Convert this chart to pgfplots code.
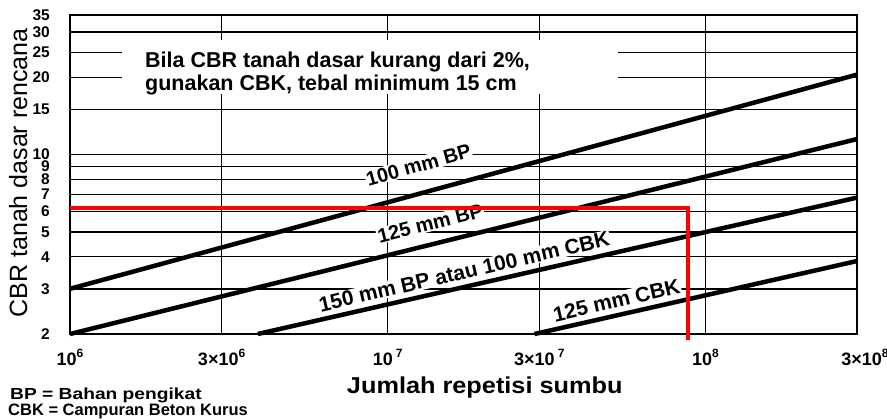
\documentclass[border=0pt]{standalone}
\usepackage{graphicx}
\usepackage{pgfplots}
\pgfplotsset{compat=1.18}
\usepackage{fontspec}
\setmainfont{Liberation Sans}
\newcommand{\tsup}[1]{\raisebox{0.42em}{\fontsize{12}{12}\selectfont #1}}
\begin{document}
\begin{tikzpicture}
\begin{axis}[
  at={(70pt,86pt)}, anchor=south west,
  width=787pt, height=319pt, scale only axis,
  xmode=log, ymode=log,
  xmin=1e6, xmax=3e8, ymin=2, ymax=35,
  clip=false,
  xtick={1e6,3e6,1e7,3e7,1e8,3e8},
  xticklabels={10\tsup{6}, 3×10\tsup{6}, 10\,\tsup{7}, 3×10\,\tsup{7}, 10\tsup{8}, \hspace{16pt}3×10\tsup{8}},
  ytick={2,3,4,5,6,7,8,9,10,15,20,25,30,35},
  yticklabels={2,3,4,5,6,7,8,9,10,15,20,25,30,35},
  xmajorgrids, ymajorgrids,
  grid style={black, line width=1.5pt},
  major tick length=0pt, minor tick length=0pt,
  minor x tick num=0, minor y tick num=0,
  axis line style={black, line width=1.8pt},
  yticklabel style={font=\fontsize{15.5}{15.5}\selectfont\bfseries, anchor=east, inner sep=0pt, xshift=-20pt},
  xticklabel style={font=\fontsize{18}{18}\selectfont\bfseries, anchor=north, inner sep=0pt, yshift=-15pt},
  xlabel={\scalebox{1.1}[1]{Jumlah repetisi sumbu}},
  ylabel={CBR tanah dasar rencana},
  xlabel style={at={(axis description cs:0.527,-0.185)}, anchor=base, font=\fontsize{23}{23}\selectfont\bfseries, inner sep=0pt},
  ylabel style={at={(axis description cs:-0.0546,0.505)}, anchor=base, font=\fontsize{25}{25}\selectfont, inner sep=0pt},
]
% line labels (white background breaks the grid as in the original)
\node[rotate=15.5, fill=white, inner sep=1pt, font=\fontsize{20}{20}\selectfont\bfseries] at (axis cs:1.25e7,9.1) {100 mm BP};
\node[rotate=14, fill=white, inner sep=1pt, font=\fontsize{20}{20}\selectfont\bfseries] at (axis cs:1.36e7,5.4) {125 mm BP};
\node[rotate=13, fill=white, inner sep=1pt, font=\fontsize{21}{21}\selectfont\bfseries] at (axis cs:1.74e7,3.5) {150 mm BP atau 100 mm CBK};
\node[rotate=13, fill=white, inner sep=1pt, font=\fontsize{21}{21}\selectfont\bfseries] at (axis cs:5.25e7,2.7) {125 mm CBK};
% design lines
\addplot[black, line width=4.5pt] coordinates {(1e6,3) (3e8,20.5)};
\addplot[black, line width=4.5pt] coordinates {(1e6,2) (3e8,11.5)};
\addplot[black, line width=4.5pt] coordinates {(3.9e6,2) (3e8,6.8)};
\addplot[black, line width=4.5pt] coordinates {(2.9e7,2) (3e8,3.85)};
% red reading line
\addplot[red, line width=3.5pt, line join=miter] coordinates {(1e6,6.2) (8.8e7,6.2) (8.8e7,1.9)};
\end{axis}
\fill[white] (122pt,326pt) rectangle (618pt,380pt);
\node[anchor=base west, inner sep=0pt, font=\fontsize{21.5}{24}\selectfont\bfseries] at (145pt,352pt) {Bila CBR tanah dasar kurang dari 2\%,};
\node[anchor=base west, inner sep=0pt, font=\fontsize{21.5}{24}\selectfont\bfseries] at (145pt,329pt) {gunakan CBK, tebal minimum 15 cm};
\node[anchor=base west, inner sep=0pt, font=\fontsize{16}{16}\selectfont\bfseries] at (10pt,20pt) {\scalebox{1.2}[1]{BP = Bahan pengikat}};
\node[anchor=base west, inner sep=0pt, font=\fontsize{16.5}{16.5}\selectfont\bfseries] at (8pt,4pt) {CBK = Campuran Beton Kurus};
\pgfresetboundingbox
\useasboundingbox (0pt,0pt) rectangle (887pt,420pt);
\end{tikzpicture}
\end{document}
